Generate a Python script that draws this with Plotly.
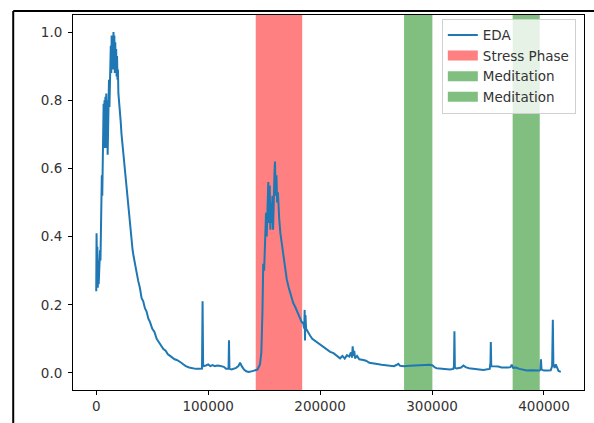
import plotly.graph_objects as go

# ---- data ----
eda_points = [
    (0, 0.24), (300, 0.41), (700, 0.30), (1000, 0.37), (1400, 0.25), (1800, 0.33),
    (2200, 0.26), (2600, 0.30), (3000, 0.28), (3400, 0.36), (3800, 0.33), (4200, 0.45),
    (4600, 0.42), (5000, 0.58), (5400, 0.52), (5800, 0.70), (6200, 0.64), (6600, 0.79),
    (7000, 0.66), (7400, 0.80), (7800, 0.68), (8200, 0.81), (8600, 0.66), (9000, 0.82),
    (9400, 0.70), (9800, 0.80), (10200, 0.64), (10600, 0.78), (11000, 0.72), (11400, 0.86),
    (11800, 0.78), (12200, 0.90), (12600, 0.84), (13000, 0.96), (13400, 0.88), (13800, 0.99),
    (14200, 0.90), (14600, 0.98), (15000, 0.89), (15400, 1.00), (15800, 0.92), (16200, 0.99),
    (16600, 0.88), (17000, 0.97), (17400, 0.90), (17800, 0.95), (18200, 0.87), (18600, 0.93),
    (19000, 0.86), (19400, 0.89), (19800, 0.82), (20400, 0.80), (21000, 0.76), (21800, 0.74),
    (22600, 0.70), (23500, 0.67), (24500, 0.63), (25500, 0.60), (26500, 0.56), (27500, 0.52),
    (28500, 0.48), (29500, 0.45), (30500, 0.42), (31500, 0.39), (32500, 0.36), (33500, 0.34),
    (34500, 0.32), (36000, 0.29), (37500, 0.27), (39000, 0.25), (40500, 0.22), (42000, 0.21),
    (43500, 0.19), (45000, 0.18), (46500, 0.16), (48000, 0.15), (50000, 0.13), (52000, 0.12),
    (54000, 0.10), (56000, 0.09), (58000, 0.08), (60000, 0.07), (62000, 0.065), (64000, 0.055),
    (66000, 0.05), (68000, 0.045), (70000, 0.04), (72000, 0.038), (74000, 0.035), (76000, 0.03),
    (78000, 0.025), (80000, 0.02), (83000, 0.016), (86000, 0.013), (89000, 0.012), (92000, 0.012),
    (94500, 0.013), (95000, 0.21), (95500, 0.02), (98000, 0.022), (100000, 0.025), (102000, 0.02),
    (104000, 0.023), (106000, 0.02), (108000, 0.022), (110000, 0.021), (112000, 0.02), (114000, 0.018),
    (116000, 0.012), (118200, 0.012), (118600, 0.096), (119000, 0.012), (121000, 0.01), (123000, 0.012),
    (125000, 0.015), (127000, 0.02), (128500, 0.03), (130000, 0.02), (132000, 0.01), (134000, 0.005),
    (136000, 0.003), (138000, 0.004), (140000, 0.006), (142000, 0.008), (144000, 0.01), (146300, 0.025),
    (147500, 0.06), (148500, 0.18), (149200, 0.32), (150000, 0.30), (150800, 0.42), (151700, 0.47),
    (152300, 0.40), (153000, 0.52), (153700, 0.56), (154300, 0.44), (155000, 0.55), (155600, 0.42),
    (156200, 0.50), (156800, 0.44), (157400, 0.52), (158000, 0.42), (158600, 0.55), (159200, 0.58),
    (159700, 0.62), (160300, 0.52), (161000, 0.58), (161600, 0.50), (162300, 0.53), (162700, 0.485),
    (163500, 0.45), (164500, 0.41), (165700, 0.38), (167000, 0.345), (168500, 0.31), (170200, 0.275),
    (172000, 0.25), (174000, 0.225), (176000, 0.205), (177600, 0.195), (179500, 0.18), (181500, 0.165),
    (183500, 0.15), (185000, 0.145), (185800, 0.13), (186200, 0.185), (186500, 0.095), (186900, 0.17),
    (187500, 0.13), (189000, 0.12), (191000, 0.11), (193000, 0.10), (195000, 0.095), (197000, 0.09),
    (200000, 0.083), (203000, 0.075), (206000, 0.068), (209000, 0.062), (212000, 0.058), (215000, 0.05),
    (217800, 0.043), (220000, 0.05), (222000, 0.042), (224000, 0.052), (226000, 0.048), (227500, 0.06),
    (228500, 0.045), (229100, 0.078), (229700, 0.05), (230500, 0.065), (231200, 0.043), (233000, 0.05),
    (235000, 0.04), (238600, 0.038), (241000, 0.036), (244000, 0.03), (247600, 0.029), (251000, 0.026),
    (255000, 0.024), (259000, 0.022), (262500, 0.021), (266000, 0.02), (268500, 0.024), (269900, 0.027),
    (271500, 0.021), (275000, 0.02), (280000, 0.021), (285000, 0.022), (290000, 0.023), (295000, 0.023),
    (298200, 0.024), (300500, 0.022), (302500, 0.016), (304200, 0.014), (308000, 0.012), (312000, 0.011),
    (316000, 0.01), (319000, 0.012), (319600, 0.02), (320000, 0.122), (320400, 0.015), (322000, 0.013),
    (324000, 0.014), (326000, 0.016), (328000, 0.022), (330000, 0.017), (333000, 0.014), (337000, 0.012),
    (340000, 0.011), (343000, 0.01), (345900, 0.009), (348000, 0.01), (351500, 0.012), (352200, 0.03),
    (352500, 0.091), (352900, 0.02), (355000, 0.02), (357000, 0.021), (359300, 0.019), (362000, 0.016),
    (365000, 0.015), (368000, 0.016), (370000, 0.017), (371200, 0.024), (372500, 0.015), (375000, 0.016),
    (378000, 0.012), (381000, 0.01), (384700, 0.007), (388000, 0.008), (392000, 0.007), (396000, 0.007),
    (396800, 0.01), (397300, 0.04), (397800, 0.01), (400000, 0.007), (403000, 0.007), (406000, 0.008),
    (407300, 0.02), (407900, 0.156), (408400, 0.025), (409500, 0.015), (410500, 0.025), (411500, 0.018),
    (413000, 0.006), (415000, 0.003),
]
eda_x = [p[0] for p in eda_points]
eda_y = [p[1] for p in eda_points]

stress_phase = (142500, 184000)
meditation_phases = [(275000, 300300), (372000, 396200)]

x_ticks = [0, 100000, 200000, 300000, 400000]
y_ticks = [0.0, 0.2, 0.4, 0.6, 0.8, 1.0]

BLUE = "#1f77b4"
RED_FILL = "#ff8080"
GREEN_FILL = "#80bf80"
FONT = "DejaVu Sans"

fig = go.Figure()
fig.add_trace(go.Scatter(x=eda_x, y=eda_y, mode="lines", name="EDA",
                         line=dict(color=BLUE, width=2)))

# legend-only entries for the shaded phases (thick line gives a patch-like symbol)
fig.add_trace(go.Scatter(x=[None], y=[None], mode="lines",
                         line=dict(color=RED_FILL, width=10), name="Stress Phase"))
for _ in meditation_phases:
    fig.add_trace(go.Scatter(x=[None], y=[None], mode="lines",
                             line=dict(color=GREEN_FILL, width=10), name="Meditation"))

shapes = [dict(type="rect", xref="x", yref="paper", x0=stress_phase[0], x1=stress_phase[1],
               y0=0, y1=1, fillcolor=RED_FILL, line=dict(width=0), layer="below")]
for a, b in meditation_phases:
    shapes.append(dict(type="rect", xref="x", yref="paper", x0=a, x1=b, y0=0, y1=1,
                       fillcolor=GREEN_FILL, line=dict(width=0), layer="below"))

# screenshot frame (left and top edges)
shapes.append(dict(type="line", xref="paper", yref="paper", x0=-0.117, x1=-0.117,
                   y0=-0.1, y1=1.0105, line=dict(color="black", width=2)))
shapes.append(dict(type="line", xref="paper", yref="paper", x0=-0.117, x1=1.03,
                   y0=1.0105, y1=1.0105, line=dict(color="black", width=2)))

fig.update_layout(
    width=594, height=423,
    margin=dict(l=73, r=9, t=15, b=27),
    paper_bgcolor="white", plot_bgcolor="white",
    font=dict(family=FONT, size=13.5, color="#333333"),
    shapes=shapes,
    showlegend=True,
    legend=dict(x=0.984, y=0.99, xanchor="right", yanchor="top",
                bgcolor="rgba(255,255,255,0.8)", bordercolor="#d0d0d0", borderwidth=1,
                font=dict(family=FONT, size=13.5, color="#333333")),
    xaxis=dict(range=[-20750, 435750], tickvals=x_ticks, ticktext=[str(v) for v in x_ticks],
               showgrid=False, zeroline=False, showline=True, mirror=True,
               linecolor="black", linewidth=1, ticks="outside", ticklen=4,
               tickcolor="black", tickwidth=1),
    yaxis=dict(range=[-0.05, 1.05], tickvals=y_ticks, ticktext=[f"{v:.1f}" for v in y_ticks],
               showgrid=False, zeroline=False, showline=True, mirror=True,
               linecolor="black", linewidth=1, ticks="outside", ticklen=4,
               tickcolor="black", tickwidth=1, ticklabelstandoff=3),
)

fig.write_html("out.html")
